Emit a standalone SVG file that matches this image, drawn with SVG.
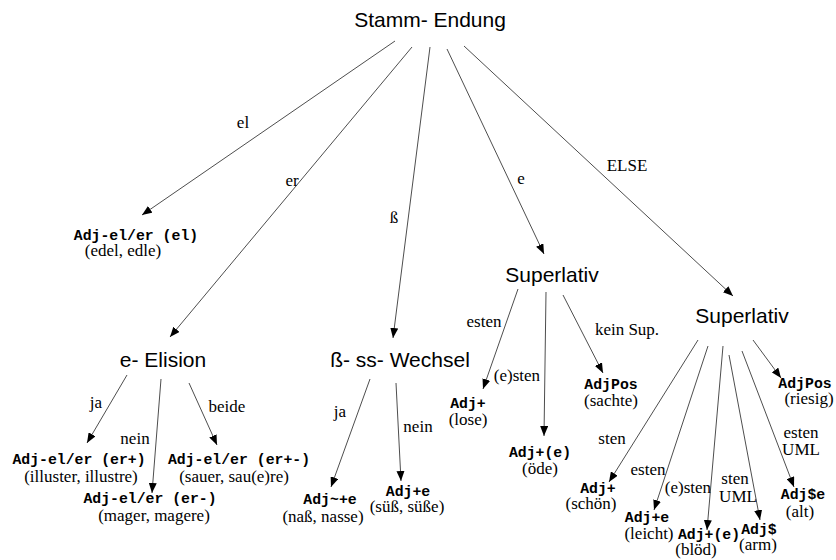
<svg xmlns="http://www.w3.org/2000/svg" width="836" height="560" viewBox="0 0 836 560">
<defs>
<marker id="ah" markerUnits="userSpaceOnUse" markerWidth="10" markerHeight="8" refX="10" refY="4" orient="auto">
<path d="M0,0 L10,4 L0,8 z" fill="#000"/>
</marker>
</defs>
<style>
.n{font-family:"Liberation Sans",Arial,sans-serif;font-size:21px;fill:#000;text-anchor:middle}
.m{font-family:"Liberation Mono","Courier New",monospace;font-size:14.8px;font-weight:bold;fill:#000;text-anchor:middle}
.s{font-family:"Liberation Serif","Times New Roman",serif;font-size:17px;fill:#000;text-anchor:middle}
.e{stroke:#000;stroke-width:0.7;fill:none;marker-end:url(#ah)}
</style>
<rect width="836" height="560" fill="#fff"/>
<g id="connectors">
<line class="e" x1="395" y1="41" x2="142" y2="215"/>
<line class="e" x1="412" y1="47" x2="170" y2="337"/>
<line class="e" x1="430" y1="47" x2="393" y2="338"/>
<line class="e" x1="447" y1="49" x2="544" y2="254"/>
<line class="e" x1="464" y1="46" x2="733" y2="296"/>
<line class="e" x1="127" y1="375" x2="87" y2="443"/>
<line class="e" x1="161" y1="379" x2="152" y2="493"/>
<line class="e" x1="189" y1="383" x2="217" y2="445"/>
<line class="e" x1="370" y1="379" x2="331" y2="487"/>
<line class="e" x1="396" y1="383" x2="401" y2="481"/>
<line class="e" x1="518" y1="289" x2="483" y2="389"/>
<line class="e" x1="546" y1="292" x2="544" y2="436"/>
<line class="e" x1="563" y1="295" x2="603" y2="373"/>
<line class="e" x1="698" y1="340" x2="609" y2="482"/>
<line class="e" x1="708" y1="346" x2="654" y2="510"/>
<line class="e" x1="723" y1="346" x2="707" y2="530"/>
<line class="e" x1="729" y1="355" x2="760" y2="520"/>
<line class="e" x1="742" y1="351" x2="794" y2="487"/>
<line class="e" x1="753" y1="340" x2="781" y2="378"/>
<text class="s" x="243" y="128">el</text>
<text class="s" x="292" y="186">er</text>
<text class="s" x="394" y="223">ß</text>
<text class="s" x="521" y="184">e</text>
<text class="s" x="627" y="171">ELSE</text>
<text class="s" x="96" y="408">ja</text>
<text class="s" x="135" y="444">nein</text>
<text class="s" x="227" y="412">beide</text>
<text class="s" x="340" y="417">ja</text>
<text class="s" x="418" y="432">nein</text>
<text class="s" x="484" y="327">esten</text>
<text class="s" x="517" y="381">(e)sten</text>
<text class="s" x="627" y="335">kein Sup.</text>
<text class="s" x="612" y="444">sten</text>
<text class="s" x="648" y="475">esten</text>
<text class="s" x="688" y="493">(e)sten</text>
<text class="s" x="735" y="484">sten</text>
<text class="s" x="738" y="502">UML</text>
<text class="s" x="801" y="438">esten</text>
<text class="s" x="801" y="455">UML</text>
</g>
<g id="root"><text class="n" x="430" y="27">Stamm- Endung</text></g>
<g id="el"><text class="m" x="136" y="240">Adj-el/er (el)</text><text class="s" x="123" y="256">(edel, edle)</text></g>
<g id="elision"><text class="n" x="163" y="367">e- Elision</text></g>
<g id="erplus"><text class="m" x="79" y="464">Adj-el/er (er+)</text><text class="s" x="81" y="482">(illuster, illustre)</text></g>
<g id="erminus"><text class="m" x="150" y="503">Adj-el/er (er-)</text><text class="s" x="154" y="521">(mager, magere)</text></g>
<g id="erpm"><text class="m" x="239" y="464">Adj-el/er (er+-)</text><text class="s" x="234" y="482">(sauer, sau(e)re)</text></g>
<g id="wechsel"><text class="n" x="400" y="367">ß- ss- Wechsel</text></g>
<g id="nass"><text class="m" x="330" y="504">Adj~+e</text><text class="s" x="323" y="522">(naß, nasse)</text></g>
<g id="suess"><text class="m" x="408" y="496">Adj+e</text><text class="s" x="407" y="512">(süß, süße)</text></g>
<g id="sup1"><text class="n" x="552" y="282">Superlativ</text></g>
<g id="lose"><text class="m" x="468" y="408">Adj+</text><text class="s" x="468" y="425">(lose)</text></g>
<g id="oede"><text class="m" x="540" y="457">Adj+(e)</text><text class="s" x="540" y="474">(öde)</text></g>
<g id="sachte"><text class="m" x="611" y="389">AdjPos</text><text class="s" x="611" y="406">(sachte)</text></g>
<g id="sup2"><text class="n" x="742" y="323">Superlativ</text></g>
<g id="riesig"><text class="m" x="805" y="388">AdjPos</text><text class="s" x="809" y="404">(riesig)</text></g>
<g id="schoen"><text class="m" x="598" y="493">Adj+</text><text class="s" x="591" y="509">(schön)</text></g>
<g id="leicht"><text class="m" x="647" y="522">Adj+e</text><text class="s" x="649" y="539">(leicht)</text></g>
<g id="bloed"><text class="m" x="709" y="539">Adj+(e)</text><text class="s" x="696" y="555">(blöd)</text></g>
<g id="arm"><text class="m" x="759" y="534">Adj$</text><text class="s" x="758" y="550">(arm)</text></g>
<g id="alt"><text class="m" x="803" y="499">Adj$e</text><text class="s" x="800" y="517">(alt)</text></g>
</svg>
